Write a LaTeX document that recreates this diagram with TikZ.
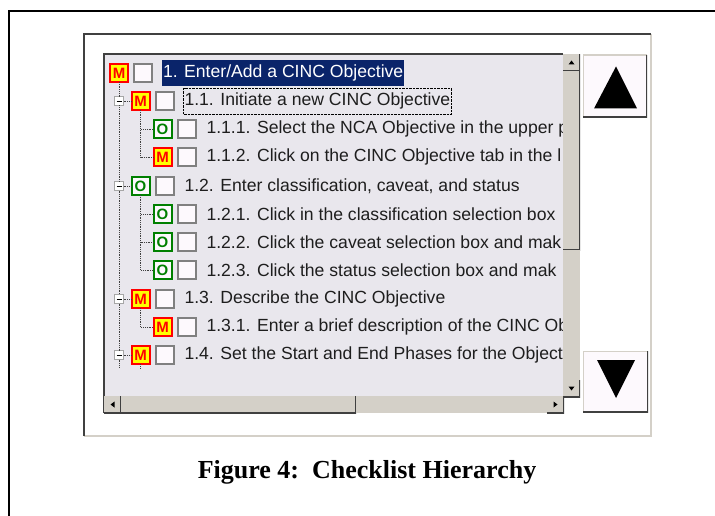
\documentclass[tikz,border=0pt]{standalone}
\usepackage{fontspec}
\setmainfont{Liberation Serif}
\setsansfont{Liberation Sans}
\usetikzlibrary{positioning}
\definecolor{listbg}{RGB}{233,231,237}
\definecolor{barface}{RGB}{212,208,200}
\definecolor{bardark}{RGB}{64,64,64}
\definecolor{selblue}{RGB}{10,36,106}
\definecolor{mred}{RGB}{255,0,0}
\definecolor{myellow}{RGB}{255,255,0}
\definecolor{ogreen}{RGB}{0,128,0}
\definecolor{boxface}{RGB}{253,249,253}
\definecolor{textgray}{RGB}{30,30,30}
\begin{document}
\begin{tikzpicture}[
		x=1pt, y=-1pt,
		every node/.style={inner sep=0pt, outer sep=0pt},
		mbadge/.style={rectangle, draw=mred, line width=2pt, fill=myellow, minimum size=18pt,
			text=mred, font=\sffamily\bfseries\fontsize{15}{15}\selectfont},
		obadge/.style={rectangle, draw=ogreen, line width=2pt, fill=boxface, minimum size=18pt,
			text=ogreen, font=\sffamily\bfseries\fontsize{15}{15}\selectfont},
		chkbox/.style={rectangle, draw=gray, line width=2pt, fill=boxface, minimum size=18pt},
		item/.style={anchor=west, inner xsep=1pt, minimum height=26pt, text=textgray,
			font=\sffamily\fontsize{17.6}{17.6}\selectfont},
		expander/.style={rectangle, draw=gray!70, fill=white, minimum size=9pt,
			path picture={\draw[black, line width=0.8pt] ([xshift=-2.5pt]path picture bounding box.center)
				-- ([xshift=2.5pt]path picture bounding box.center);}},
		treeline/.style={densely dotted, line width=0.8pt, draw=black!75},
		bevel/.style={rectangle, fill=barface, path picture={\draw[bardark, line width=2.5pt]
				(path picture bounding box.north east) -- (path picture bounding box.south east)
				-- (path picture bounding box.south west);}},
		bigbtn/.style={rectangle, fill=boxface, path picture={
				\draw[barface, line width=2pt] (path picture bounding box.south west)
				-- (path picture bounding box.north west) -- (path picture bounding box.north east);
				\draw[bardark, line width=3pt]
				(path picture bounding box.north east) -- (path picture bounding box.south east)
				-- (path picture bounding box.south west);}}
		]
	\useasboundingbox (0,0) rectangle (715,516);
	% frame and window
	\draw[line width=1.7pt] (9,516) -- (9,11) -- (715,11);
	\draw[barface, line width=1.5pt] (651,34) -- (651,436) -- (84,436);
	\draw[bardark, line width=1.5pt] (84,436) -- (84,34) -- (651,34);
	% list area
	\fill[listbg] (104,54) rectangle (563,396);
	\draw[bardark, line width=1.5pt] (104,413) -- (104,54) -- (563,54);
	\begin{scope}
		\clip (105,55) rectangle (563,396);
		\node[mbadge] (m1) at (119,73) {M};
		\node[chkbox, right=6pt of m1] (c1) {};
		\node[item, fill=selblue, text=white, right=10pt of c1] (t1) {1. Enter/Add a CINC Objective};

		\node[expander] (x11) at (119,101) {};
		\node[mbadge] (m11) at (140.5,101) {M};
		\node[chkbox, right=6pt of m11] (c11) {};
		\node[item, draw=black, densely dotted, right=10pt of c11] (t11) {1.1. Initiate a new CINC Objective};

		\node[obadge] (m111) at (162.5,129) {O};
		\node[chkbox, right=6pt of m111] (c111) {};
		\node[item, right=10pt of c111] (t111) {1.1.1. Select the NCA Objective in the upper p};

		\node[mbadge] (m112) at (162.5,157) {M};
		\node[chkbox, right=6pt of m112] (c112) {};
		\node[item, right=10pt of c112] (t112) {1.1.2. Click on the CINC Objective tab in the l};

		\node[expander] (x12) at (119,186) {};
		\node[obadge] (m12) at (140.5,186) {O};
		\node[chkbox, right=6pt of m12] (c12) {};
		\node[item, right=10pt of c12] (t12) {1.2. Enter classification, caveat, and status};

		\node[obadge] (m121) at (162.5,214) {O};
		\node[chkbox, right=6pt of m121] (c121) {};
		\node[item, right=10pt of c121] (t121) {1.2.1. Click in the classification selection box};

		\node[obadge] (m122) at (162.5,242) {O};
		\node[chkbox, right=6pt of m122] (c122) {};
		\node[item, right=10pt of c122] (t122) {1.2.2. Click the caveat selection box and mak};

		\node[obadge] (m123) at (162.5,270) {O};
		\node[chkbox, right=6pt of m123] (c123) {};
		\node[item, right=10pt of c123] (t123) {1.2.3. Click the status selection box and mak};

		\node[expander] (x13) at (119,299) {};
		\node[mbadge] (m13) at (140.5,299) {M};
		\node[chkbox, right=6pt of m13] (c13) {};
		\node[item, right=10pt of c13] (t13) {1.3. Describe the CINC Objective};

		\node[mbadge] (m131) at (162.5,327) {M};
		\node[chkbox, right=6pt of m131] (c131) {};
		\node[item, right=10pt of c131] (t131) {1.3.1. Enter a brief description of the CINC Ob};

		\node[expander] (x14) at (119,355) {};
		\node[mbadge] (m14) at (140.5,355) {M};
		\node[chkbox, right=6pt of m14] (c14) {};
		\node[item, right=10pt of c14] (t14) {1.4. Set the Start and End Phases for the Object};

		\coordinate (trunk) at (119,368);
		\coordinate (m14tail) at (140.5,368);
		% dotted tree lines
		\draw[treeline] (m1.south) -- (x11.north);
		\draw[treeline] (x11.south) -- (x12.north);
		\draw[treeline] (x12.south) -- (x13.north);
		\draw[treeline] (x13.south) -- (x14.north);
		\draw[treeline] (x14.south) -- (trunk);
		\foreach \n in {11,12,13,14}
			\draw[treeline] (x\n.east) -- (m\n.west);
		\foreach \p/\c in {11/111, 11/112, 12/121, 12/122, 12/123, 13/131}
			\draw[treeline] (m\p.south) |- (m\c.west);
		\draw[treeline] (m14.south) -- (m14tail);
	\end{scope}
	% scroll bars
	\node[bevel, minimum width=17pt, minimum height=17pt] (vup) at (571.5,62.5) {};
	\node[bevel, minimum width=17pt, minimum height=179pt] (vthumb) at (571.5,160.5) {};
	\fill[barface] (563,250) rectangle (580,380);
	\node[bevel, minimum width=17pt, minimum height=17pt] (vdown) at (571.5,388.5) {};
	\node[bevel, minimum width=17pt, minimum height=17pt] (hleft) at (112.5,404.5) {};
	\node[bevel, minimum width=235pt, minimum height=17pt] (hthumb) at (238.5,404.5) {};
	\fill[barface] (356,396) rectangle (547,413);
	\node[bevel, minimum width=17pt, minimum height=17pt] (hright) at (555.5,404.5) {};
	\fill (vup.center) ++(0,-2) -- ++(3,4) -- ++(-6,0) -- cycle;
	\fill (vdown.center) ++(0,2) -- ++(3,-4) -- ++(-6,0) -- cycle;
	\fill (hleft.center) ++(-2,0) -- ++(4,-3) -- ++(0,6) -- cycle;
	\fill (hright.center) ++(2,0) -- ++(-4,-3) -- ++(0,6) -- cycle;
	% big buttons
	\node[bigbtn, minimum width=64pt, minimum height=63pt] (up) at (615,86.5) {};
	\node[bigbtn, minimum width=65pt, minimum height=61pt] (down) at (615.5,381.5) {};
	\fill (up.center) ++(1,-20) -- ++(21,42) -- ++(-43,0) -- cycle;
	\fill (down.center) ++(0.5,16.5) -- ++(19,-38) -- ++(-38,0) -- cycle;
	% caption
	\node[font=\bfseries\fontsize{26}{26}\selectfont] (caption) at (367,472) {Figure 4:\ \ Checklist Hierarchy};
\end{tikzpicture}
\end{document}
